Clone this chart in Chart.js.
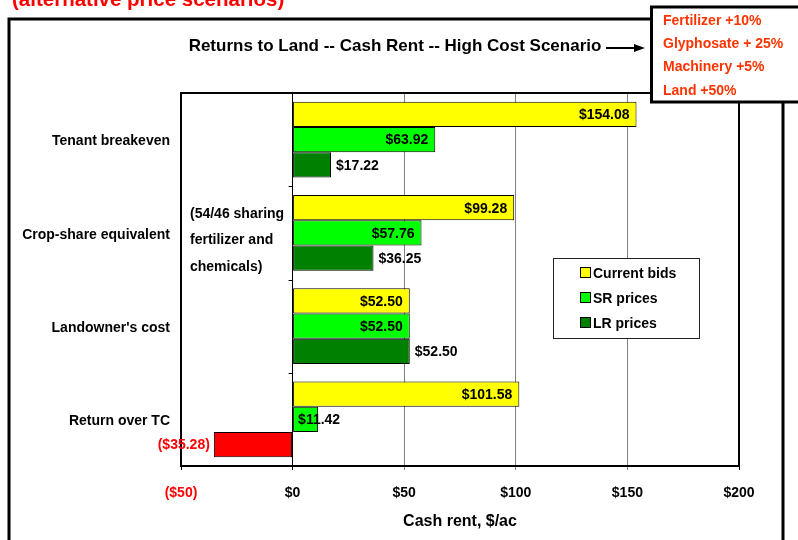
<!DOCTYPE html>
<html>
<head>
<meta charset="utf-8">
<script src="https://cdn.jsdelivr.net/npm/chart.js@4.4.1/dist/chart.umd.min.js"></script>
<style>
    html, body { margin: 0; padding: 0; background: #fff; }
    #wrap { width: 798px; height: 540px; position: relative; }
</style>
</head>
<body>
<div id="wrap"><canvas id="rent-chart" width="798" height="540"></canvas></div>
<script>
// rent levels by method, $/ac
const categories = ['Tenant breakeven', 'Crop-share equivalent', "Landowner's cost", 'Return over TC'];
const currentBids = [154.08, 99.28, 52.50, 101.58];
const srPrices = [63.92, 57.76, 52.50, 11.42];
const lrPrices = [17.22, 36.25, 52.50, -35.28];
const xTicks = [-50, 0, 50, 100, 150, 200];
const scenarioNotes = ['Fertilizer +10%', 'Glyphosate + 25%', 'Machinery +5%', 'Land +50%'];
const shareNote = ['(54/46 sharing', 'fertilizer and', 'chemicals)'];

const FAMILY = '"Liberation Sans", Arial, sans-serif';
const BOLD14 = 'bold 14px ' + FAMILY;
const RED = '#ff0000';
const NOTE_RED = '#ff3300';

// format dollars, negatives in parentheses
const money = (v, digits) => {
    const s = '$' + Math.abs(v).toFixed(digits);
    return v < 0 ? '(' + s + ')' : s;
};

// value labels: inside end when they fit, otherwise from the bar start; LR always outside
const valueLabels = {
    id: 'valueLabels',
    afterDatasetsDraw(chart) {
        const ctx = chart.ctx;
        ctx.save();
        ctx.font = BOLD14;
        ctx.textBaseline = 'middle';
        chart.data.datasets.forEach((ds, di) => {
            chart.getDatasetMeta(di).data.forEach((bar, i) => {
                const v = ds.data[i];
                const text = money(v, 2);
                const w = ctx.measureText(text).width;
                const len = Math.abs(bar.x - bar.base);
                let x = bar.x;
                ctx.fillStyle = '#000';
                if (v < 0) {
                    ctx.fillStyle = RED;
                    ctx.textAlign = 'right';
                    x = bar.x - 4;
                } else if (ds.labelPos === 'outside') {
                    ctx.textAlign = 'left';
                    x = bar.x + 5;
                } else if (w + 12 <= len) {
                    ctx.textAlign = 'right';
                    x = bar.x - 7;
                } else {
                    ctx.textAlign = 'left';
                    x = bar.base + 5;
                }
                ctx.fillText(text, x, bar.y + 1);
            });
        });
        ctx.restore();
    }
};

// plot frame, category ticks on the zero line
const plotFrame = {
    id: 'plotFrame',
    beforeDatasetsDraw(chart) {
        const {ctx, chartArea: a, scales} = chart;
        ctx.save();
        ctx.strokeStyle = '#000';
        ctx.lineWidth = 2;
        ctx.strokeRect(a.left, a.top, a.right - a.left, a.bottom - a.top);
        const x0 = scales.x.getPixelForValue(0);
        const half = (scales.y.getPixelForValue(1) - scales.y.getPixelForValue(0)) / 2;
        ctx.lineWidth = 1;
        ctx.beginPath();
        for (let i = 0; i <= categories.length; i++) {
            const y = Math.round(scales.y.getPixelForValue(i) - half) + 0.5;
            ctx.moveTo(x0 - 4, y);
            ctx.lineTo(x0, y);
        }
        ctx.stroke();
        ctx.restore();
    }
};

// surrounding frame, titles, notes and legend
const decorations = {
    id: 'decorations',
    afterDraw(chart) {
        const ctx = chart.ctx;
        ctx.save();

        // outer frame
        ctx.strokeStyle = '#000';
        ctx.lineWidth = 3;
        ctx.strokeRect(9, 19, 774, 600);

        // heading cut off at the top
        ctx.fillStyle = RED;
        ctx.font = 'bold 20.5px ' + FAMILY;
        ctx.textAlign = 'left';
        ctx.textBaseline = 'alphabetic';
        ctx.fillText('(alternative price scenarios)', 12, 6);

        // chart title
        ctx.fillStyle = '#000';
        ctx.font = 'bold 17px ' + FAMILY;
        ctx.textAlign = 'center';
        ctx.textBaseline = 'middle';
        ctx.fillText('Returns to Land -- Cash Rent -- High Cost Scenario', 395, 46);

        // arrow to the scenario box
        ctx.lineWidth = 2;
        ctx.beginPath();
        ctx.moveTo(606, 48);
        ctx.lineTo(636, 48);
        ctx.stroke();
        ctx.beginPath();
        ctx.moveTo(645, 48);
        ctx.lineTo(634, 44);
        ctx.lineTo(634, 52);
        ctx.closePath();
        ctx.fill();

        // scenario box
        ctx.fillStyle = '#fff';
        ctx.fillRect(651.5, 7, 200, 95);
        ctx.lineWidth = 3;
        ctx.strokeRect(651.5, 7, 200, 95);
        ctx.fillStyle = NOTE_RED;
        ctx.font = BOLD14;
        ctx.textAlign = 'left';
        scenarioNotes.forEach((t, i) => ctx.fillText(t, 663, 21 + i * 23.3));

        // crop-share note
        ctx.fillStyle = '#000';
        shareNote.forEach((t, i) => ctx.fillText(t, 190, 214 + i * 26.5));

        // legend
        ctx.lineWidth = 1;
        ctx.fillStyle = '#fff';
        ctx.fillRect(553.5, 258.5, 146, 80);
        ctx.strokeStyle = '#222';
        ctx.strokeRect(553.5, 258.5, 146, 80);
        chart.data.datasets.forEach((ds, i) => {
            const y = 273 + i * 25;
            ctx.fillStyle = ds.legendColor || ds.backgroundColor;
            ctx.fillRect(580.5, y - 5.5, 10, 10);
            ctx.strokeStyle = '#000';
            ctx.strokeRect(580.5, y - 5.5, 10, 10);
            ctx.fillStyle = '#000';
            ctx.fillText(ds.label, 593, y + 1);
        });

        ctx.restore();
    }
};

const gridColor = (c) => {
    const v = c.tick ? c.tick.value : null;
    return (v === 0 || v === xTicks[0] || v === xTicks[xTicks.length - 1]) ? '#000' : '#808080';
};

new Chart(document.getElementById('rent-chart'), {
    type: 'bar',
    data: {
        labels: categories,
        datasets: [{
            label: 'Current bids',
            data: currentBids,
            backgroundColor: '#ffff00'
        }, {
            label: 'SR prices',
            data: srPrices,
            backgroundColor: '#00ff00'
        }, {
            label: 'LR prices',
            data: lrPrices,
            labelPos: 'outside',
            legendColor: '#008000',
            backgroundColor: lrPrices.map(v => v < 0 ? RED : '#008000')
        }]
    },
    options: {
        indexAxis: 'y',
        responsive: false,
        animation: false,
        devicePixelRatio: 1,
        layout: { padding: { top: 93, right: 59, left: 0, bottom: 0 } },
        datasets: {
            bar: {
                borderColor: '#000',
                borderWidth: 1,
                borderSkipped: false,
                categoryPercentage: 0.81,
                barPercentage: 1
            }
        },
        plugins: {
            legend: { display: false },
            tooltip: { enabled: false }
        },
        scales: {
            x: {
                min: xTicks[0],
                max: xTicks[xTicks.length - 1],
                afterBuildTicks: (s) => { s.ticks = xTicks.map(v => ({ value: v })); },
                afterFit: (s) => { s.height = 74; },
                grid: { color: gridColor, tickLength: 4, lineWidth: 1 },
                border: { display: false },
                ticks: {
                    padding: 15,
                    font: { family: FAMILY, size: 14, weight: 'bold' },
                    color: (c) => c.tick.value < 0 ? RED : '#000',
                    callback: (v) => money(v, 0)
                },
                title: {
                    display: true,
                    text: 'Cash rent, $/ac',
                    color: '#000',
                    font: { family: FAMILY, size: 16, weight: 'bold' },
                    padding: { top: 0, bottom: 9 }
                }
            },
            y: {
                afterFit: (s) => { s.width = 181; },
                grid: { display: false, drawTicks: false },
                border: { display: false },
                ticks: {
                    padding: 11,
                    labelOffset: 2,
                    color: '#000',
                    font: { family: FAMILY, size: 14, weight: 'bold' }
                }
            }
        }
    },
    plugins: [plotFrame, valueLabels, decorations]
});
</script>
</body>
</html>
